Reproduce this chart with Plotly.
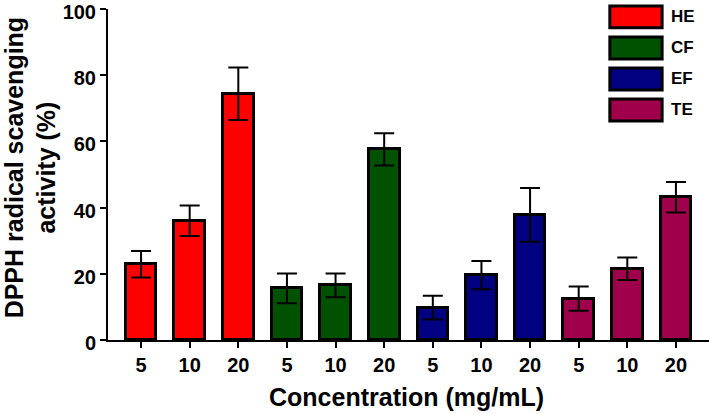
import plotly.graph_objects as go

groups = ["HE", "CF", "EF", "TE"]
concentrations = ["5", "10", "20"]
colors = ["#FF0000", "#005200", "#000080", "#A0004B"]
HE = [22.9, 36.0, 74.4]
CF = [15.6, 16.5, 57.6]
EF = [9.8, 19.6, 37.8]
TE = [12.5, 21.5, 43.1]
HE_err = [4.0, 4.6, 7.9]
CF_err = [4.5, 3.6, 4.9]
EF_err = [3.6, 4.3, 8.1]
TE_err = [3.7, 3.4, 4.6]

values = [HE, CF, EF, TE]
errors = [HE_err, CF_err, EF_err, TE_err]

FONT = "Liberation Sans"
fig = go.Figure()
tickvals, ticktext = [], []
for gi, (name, vals, errs, col) in enumerate(zip(groups, values, errors, colors)):
    xs = [gi * len(concentrations) + ci for ci in range(len(concentrations))]
    tickvals += xs
    ticktext += [f"<b>{c}</b>" for c in concentrations]
    fig.add_trace(go.Bar(
        x=xs, y=vals, name=name, width=0.63,
        marker=dict(color=col, line=dict(color="black", width=3)),
        error_y=dict(type="data", array=errs, visible=True, color="black",
                     thickness=2, width=10),
        showlegend=False,
    ))

# custom legend boxes (top right)
for i, (name, col) in enumerate(zip(groups, colors)):
    y0 = 1.009 - i * 0.0937
    fig.add_shape(type="rect", xref="paper", yref="paper",
                  x0=0.835, x1=0.922, y0=y0 - 0.066, y1=y0,
                  fillcolor=col, line=dict(color="black", width=3))
    fig.add_annotation(xref="paper", yref="paper", x=0.933, y=y0 - 0.033,
                       text=f"<b>{name}</b>", showarrow=False, xanchor="left",
                       yanchor="middle",
                       font=dict(family=FONT, size=17, color="black"))

# axis titles
fig.add_annotation(xref="paper", yref="paper", x=0.4975, y=-0.172,
                   text="<b>Concentration (mg/mL)</b>", showarrow=False,
                   xanchor="center", yanchor="middle",
                   font=dict(family=FONT, size=25, color="black"))
fig.add_annotation(xref="paper", yref="paper", x=-0.129, y=0.523,
                   text="<b>DPPH radical scavenging<br>activity (%)</b>", showarrow=False,
                   textangle=-90, xanchor="center", yanchor="middle",
                   font=dict(family=FONT, size=25, color="black"))

fig.update_layout(
    width=709, height=414,
    margin=dict(l=108, r=0, t=9, b=74),
    plot_bgcolor="white", paper_bgcolor="white",
    bargap=0,
    xaxis=dict(range=[-0.68, 11.68], tickvals=tickvals, ticktext=ticktext,
               showline=True, linecolor="black", linewidth=2,
               ticks="outside", ticklen=6, tickwidth=2, tickcolor="black",
               showgrid=False, zeroline=False, automargin=False,
               tickfont=dict(family=FONT, size=20, color="black")),
    yaxis=dict(range=[0, 100], tickvals=[0, 20, 40, 60, 80, 100],
               ticktext=["<b>0</b>", "<b>20</b>", "<b>40</b>", "<b>60</b>", "<b>80</b>", "<b>100</b>"],
               showline=True, linecolor="black", linewidth=2,
               ticks="outside", ticklen=6, tickwidth=2, tickcolor="black",
               showgrid=False, zeroline=False, automargin=False,
               ticklabeloverflow="allow", ticklabelshift=3,
               tickfont=dict(family=FONT, size=20, color="black")),
)
fig.write_html("out.html", config={"displayModeBar": False},
               post_script="document.body.style.margin='0';")
